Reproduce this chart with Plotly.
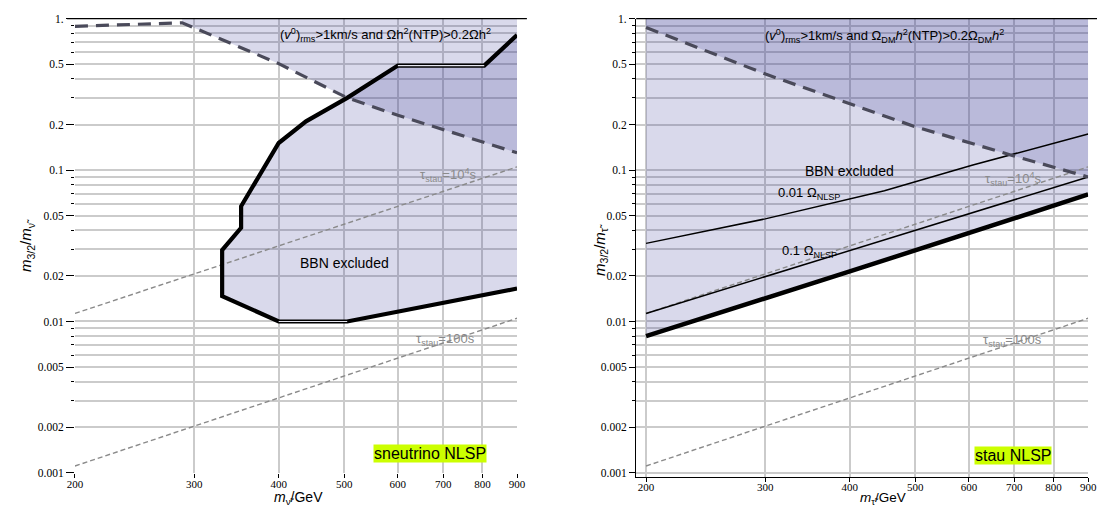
import numpy as np
import plotly.graph_objects as go

W, H = 1106, 515

# ---------------- data ----------------
x_ticks = [200, 300, 400, 500, 600, 700, 800, 900]
y_major = [0.001, 0.002, 0.005, 0.01, 0.02, 0.05, 0.1, 0.2, 0.5, 1.0]
y_major_text = ["0.001", "0.002", "0.005", "0.01", "0.02", "0.05", "0.1", "0.2", "0.5", "1."]
y_minor = [0.003, 0.004, 0.006, 0.007, 0.008, 0.009,
           0.03, 0.04, 0.06, 0.07, 0.08, 0.09,
           0.3, 0.4, 0.6, 0.7, 0.8, 0.9]

# lifetime contours (both panels)
x_tau = [200, 900]
y_tau_1e4 = [0.0113, 0.105]
y_tau_100 = [0.00111, 0.0105]

# left panel: sneutrino NLSP
x_bbn_sn = [900, 505, 400, 330, 330, 352, 352, 400, 439, 505, 600, 805, 900]
y_bbn_sn = [0.0165, 0.01, 0.01, 0.0147, 0.0296, 0.0416, 0.0577, 0.151, 0.21, 0.3, 0.49, 0.49, 0.78]
x_plat_sn = [[400, 505], [600, 805]]
y_plat_sn = [[0.01, 0.01], [0.49, 0.49]]
x_dm_sn = [200, 288, 400, 505, 600, 900]
y_dm_sn = [0.89, 0.94, 0.505, 0.3, 0.23, 0.13]

# right panel: stau NLSP
x_bbn_st = [200, 400, 900]
y_bbn_st = [0.008, 0.0214, 0.069]
x_01_st = [200, 900]
y_01_st = [0.0113, 0.090]
x_001_st = [200, 300, 450, 608, 900]
y_001_st = [0.0328, 0.0476, 0.073, 0.108, 0.173]
x_dm_st = [200, 301, 497, 695, 900]
y_dm_st = [0.875, 0.429, 0.195, 0.125, 0.090]

Y_TOP = 1.0

# ---------------- styles ----------------
FILL = "rgba(48,48,146,0.184)"
DMCOL = "#4a4a5a"
TAUCOL = "#8a8a8a"
GRID = "#cbcbcb"
SERIF = "Liberation Serif"
SANS = "Liberation Sans"

fig = go.Figure()

def add(tr, k):
    tr.update(xaxis="x" if k == 1 else "x2", yaxis="y" if k == 1 else "y2",
              showlegend=False, hoverinfo="skip")
    fig.add_trace(tr)

# ---- left panel ----
add(go.Scatter(x=x_dm_sn[1:] + [x_dm_sn[-1], x_dm_sn[1]],
               y=y_dm_sn[1:] + [Y_TOP, Y_TOP], fill="toself", fillcolor=FILL,
               mode="lines", line=dict(width=0)), 1)
add(go.Scatter(x=x_bbn_sn, y=y_bbn_sn, fill="toself", fillcolor=FILL,
               mode="lines", line=dict(width=0)), 1)
for yt in (y_tau_1e4, y_tau_100):
    add(go.Scatter(x=x_tau, y=yt, mode="lines",
                   line=dict(color=TAUCOL, width=1.4, dash="5px,3px")), 1)
add(go.Scatter(x=x_dm_sn, y=y_dm_sn, mode="lines",
               line=dict(color=DMCOL, width=3.2, dash="13px,8px")), 1)
add(go.Scatter(x=x_bbn_sn, y=y_bbn_sn, mode="lines",
               line=dict(color="black", width=4.2)), 1)
for xp, yp in zip(x_plat_sn, y_plat_sn):
    add(go.Scatter(x=xp, y=yp, mode="lines",
                   line=dict(color="#e6e6f0", width=1.2)), 1)

# ---- right panel ----
add(go.Scatter(x=x_bbn_st + [x_bbn_st[-1], x_bbn_st[0]],
               y=y_bbn_st + [Y_TOP, Y_TOP], fill="toself", fillcolor=FILL,
               mode="lines", line=dict(width=0)), 2)
add(go.Scatter(x=x_dm_st + [x_dm_st[-1], x_dm_st[0]],
               y=y_dm_st + [Y_TOP, Y_TOP], fill="toself", fillcolor=FILL,
               mode="lines", line=dict(width=0)), 2)
for yt in (y_tau_1e4, y_tau_100):
    add(go.Scatter(x=x_tau, y=yt, mode="lines",
                   line=dict(color=TAUCOL, width=1.4, dash="5px,3px")), 2)
add(go.Scatter(x=x_001_st, y=y_001_st, mode="lines",
               line=dict(color="black", width=1.5)), 2)
add(go.Scatter(x=x_01_st, y=y_01_st, mode="lines",
               line=dict(color="black", width=1.5)), 2)
add(go.Scatter(x=x_dm_st, y=y_dm_st, mode="lines",
               line=dict(color=DMCOL, width=3.2, dash="13px,8px")), 2)
add(go.Scatter(x=x_bbn_st, y=y_bbn_st, mode="lines",
               line=dict(color="black", width=4.5)), 2)

# ---------------- axes ----------------
xcommon = dict(type="log", tickmode="array", tickvals=x_ticks,
               ticktext=[str(v) for v in x_ticks],
               showgrid=True, gridcolor=GRID, gridwidth=1.6, zeroline=False,
               ticks="outside", ticklen=4, tickcolor="black", ticklabelstandoff=-3,
               tickfont=dict(family=SERIF, size=11, color="black"))
ycommon = dict(type="log", tickmode="array", tickvals=y_major, ticktext=y_major_text,
               showgrid=True, gridcolor=GRID, gridwidth=1.6, zeroline=False,
               ticks="outside", ticklen=6, tickcolor="black",
               tickfont=dict(family=SERIF, size=11.5, color="black"),
               minor=dict(tickmode="array", tickvals=y_minor, showgrid=True,
                          gridcolor=GRID, gridwidth=1.6, ticks="outside",
                          ticklen=3, tickcolor="black"))

x200 = np.log10(200)
px_per_dec = 449 / np.log10(900 / 200)

fig.update_layout(
    width=W, height=H, margin=dict(l=0, r=0, t=0, b=0),
    paper_bgcolor="white", plot_bgcolor="white",
    xaxis=dict(xcommon, domain=[68 / W, 517 / W], range=[x200, np.log10(900)],
               anchor="y", showline=False),
    yaxis=dict(ycommon, domain=[1 - 478 / H, 1 - 13 / H], range=[-3, 0],
               anchor="x", showline=False, ticklen=8),
    xaxis2=dict(xcommon, domain=[638 / W, 1097 / W],
                range=[x200 - 10 / px_per_dec, np.log10(900)],
                anchor="y2", showline=True, linecolor="black", linewidth=1.3,
                ticklabelstandoff=-4),
    yaxis2=dict(ycommon, domain=[1 - 482 / H, 1 - 13 / H], range=[-3 - 4 / 155, 0],
                anchor="x2", showline=True, linecolor="black", linewidth=1.3),
)

# top frame lines
fig.add_shape(type="line", xref="x domain", yref="y domain", x0=-8 / 449, x1=459 / 449,
              y0=1, y1=1, line=dict(color="black", width=1.3))
fig.add_shape(type="line", xref="x2 domain", yref="y2 domain", x0=0, x1=468 / 459,
              y0=1, y1=1, line=dict(color="black", width=1.3))

# ---------------- annotations ----------------
def ann(x, y, text, size=14, color="black", family=SANS, yanchor="middle", **kw):
    fig.add_annotation(x=x / W, y=1 - y / H, xref="paper", yref="paper", text=text,
                       xanchor="center", yanchor=yanchor, showarrow=False,
                       font=dict(family=family, size=size, color=color), **kw)

ann(383, 30, "(<i>v</i><sup>0</sup>)<sub>rms</sub>>1km/s and Ωh<sup>2</sup>(NTP)>0.2Ωh<sup>2</sup>", 13)
ann(890, 31, "(<i>v</i><sup>0</sup>)<sub>rms</sub>>1km/s and Ω<sub>DM</sub><i>h</i><sup>2</sup>(NTP)>0.2Ω<sub>DM</sub><i>h</i><sup>2</sup>", 13)
ann(342, 263, "BBN excluded", 14)
ann(855, 169, "BBN excluded", 14)
ann(814, 192, "0.01 Ω<sub>NLSP</sub>", 13)
ann(814, 251, "0.1 Ω<sub>NLSP</sub>", 13)
ann(447, 173, "τ<sub>stau</sub>=10<sup>4</sup>s", 13, TAUCOL)
ann(1021, 177, "τ<sub>stau</sub>=10<sup>4</sup>s", 13, TAUCOL)
ann(444, 341, "τ<sub>stau</sub>=100s", 13, TAUCOL)
ann(1020, 342, "τ<sub>stau</sub>=100s", 13, TAUCOL)
ann(429, 458, "sneutrino NLSP", 16, bgcolor="#ccff00", borderpad=0)
ann(1021, 460, "stau NLSP", 16, bgcolor="#ccff00", borderpad=0)
ann(295, 515, "<i>m</i><sub>ν̃</sub>/GeV", 14, yanchor="bottom")
ann(889, 515, "<i>m</i><sub>τ̃</sub>/GeV", 13.5, yanchor="bottom")
ann(19, 245, "<i>m</i><sub>3/2</sub>/<i>m</i><sub>ν̃</sub>", 15, textangle=-90)
ann(601, 250, "<i>m</i><sub>3/2</sub>/<i>m</i><sub>τ̃</sub>", 15, textangle=-90)

fig.write_html("out.html")
